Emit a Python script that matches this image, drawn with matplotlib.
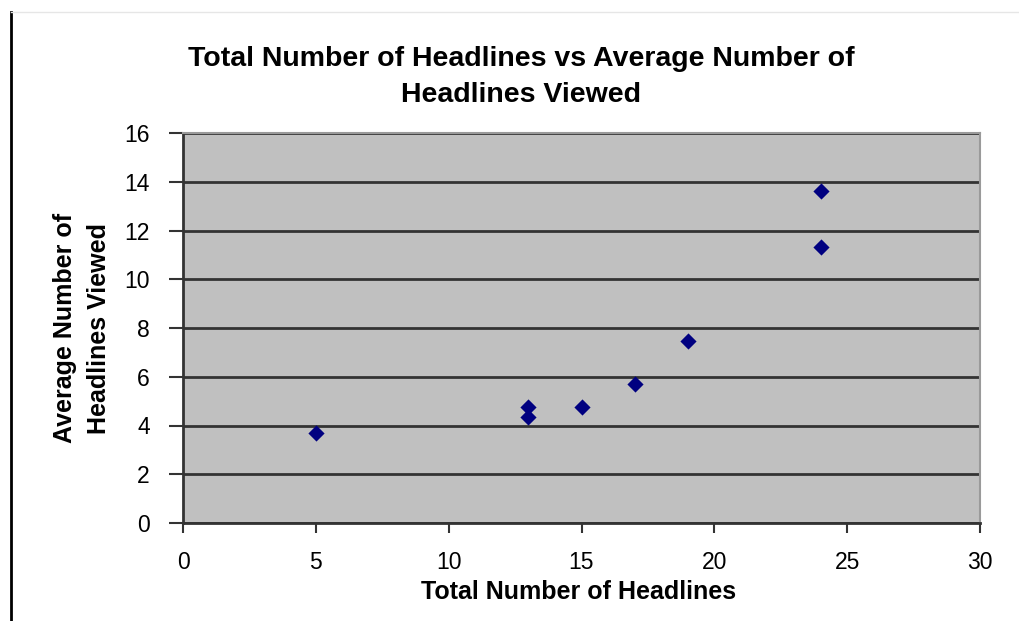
import matplotlib
matplotlib.use("Agg")
import matplotlib.pyplot as plt
from matplotlib.lines import Line2D

# Data
total_headlines = [5, 13, 13, 15, 17, 19, 24, 24]
avg_viewed = [3.68, 4.36, 4.75, 4.75, 5.70, 7.47, 11.34, 13.63]
x_ticks = [0, 5, 10, 15, 20, 25, 30]
y_ticks = [0, 2, 4, 6, 8, 10, 12, 14, 16]

title = "Total Number of Headlines vs Average Number of\nHeadlines Viewed"
x_label = "Total Number of Headlines"
y_label = "Average Number of\nHeadlines Viewed"

plt.rcParams['font.family'] = ['Liberation Sans', 'DejaVu Sans']

fig = plt.figure(figsize=(10.19, 6.21), dpi=100)
ax = fig.add_axes([183/1019, 1 - 523/621, (980-183)/1019, (523-133)/621])
ax.set_facecolor('#C0C0C0')

ax.scatter(total_headlines, avg_viewed, marker='D', s=68, color='#000080', zorder=3, linewidths=0)

ax.set_xlim(0, 30)
ax.set_ylim(0, 16)
ax.set_xticks(x_ticks)
ax.set_yticks(y_ticks)
ax.tick_params(axis='both', labelsize=16.5, direction='out', width=1.5, color='#333333')
ax.tick_params(axis='y', length=10, pad=14)
ax.tick_params(axis='x', length=7, pad=13)
ax.yaxis.grid(True, color='#333333', linewidth=2)
ax.set_axisbelow(True)
for s in ['left', 'bottom']:
    ax.spines[s].set_color('#333333')
    ax.spines[s].set_linewidth(2)
for s in ['right', 'top']:
    ax.spines[s].set_color('#9a9a9a')
    ax.spines[s].set_linewidth(1.5)

fig.text(521/1019, 1 - 77/621, title, ha='center', va='center', fontsize=20.5, fontweight='bold', linespacing=1.45)
fig.text(579/1019, 1 - 592/621, x_label, ha='center', va='center', fontsize=18, fontweight='bold')
fig.text(82/1019, 1 - 328/621, y_label, ha='center', va='center', fontsize=18, fontweight='bold', rotation=90, linespacing=1.55)

fig.add_artist(Line2D([11/1019, 11/1019], [0, 1 - 12/621], transform=fig.transFigure, color='black', linewidth=2))
fig.add_artist(Line2D([11/1019, 1], [1 - 12/621, 1 - 12/621], transform=fig.transFigure, color='#e6e6e6', linewidth=1))

fig.savefig('out.png', dpi=100)
